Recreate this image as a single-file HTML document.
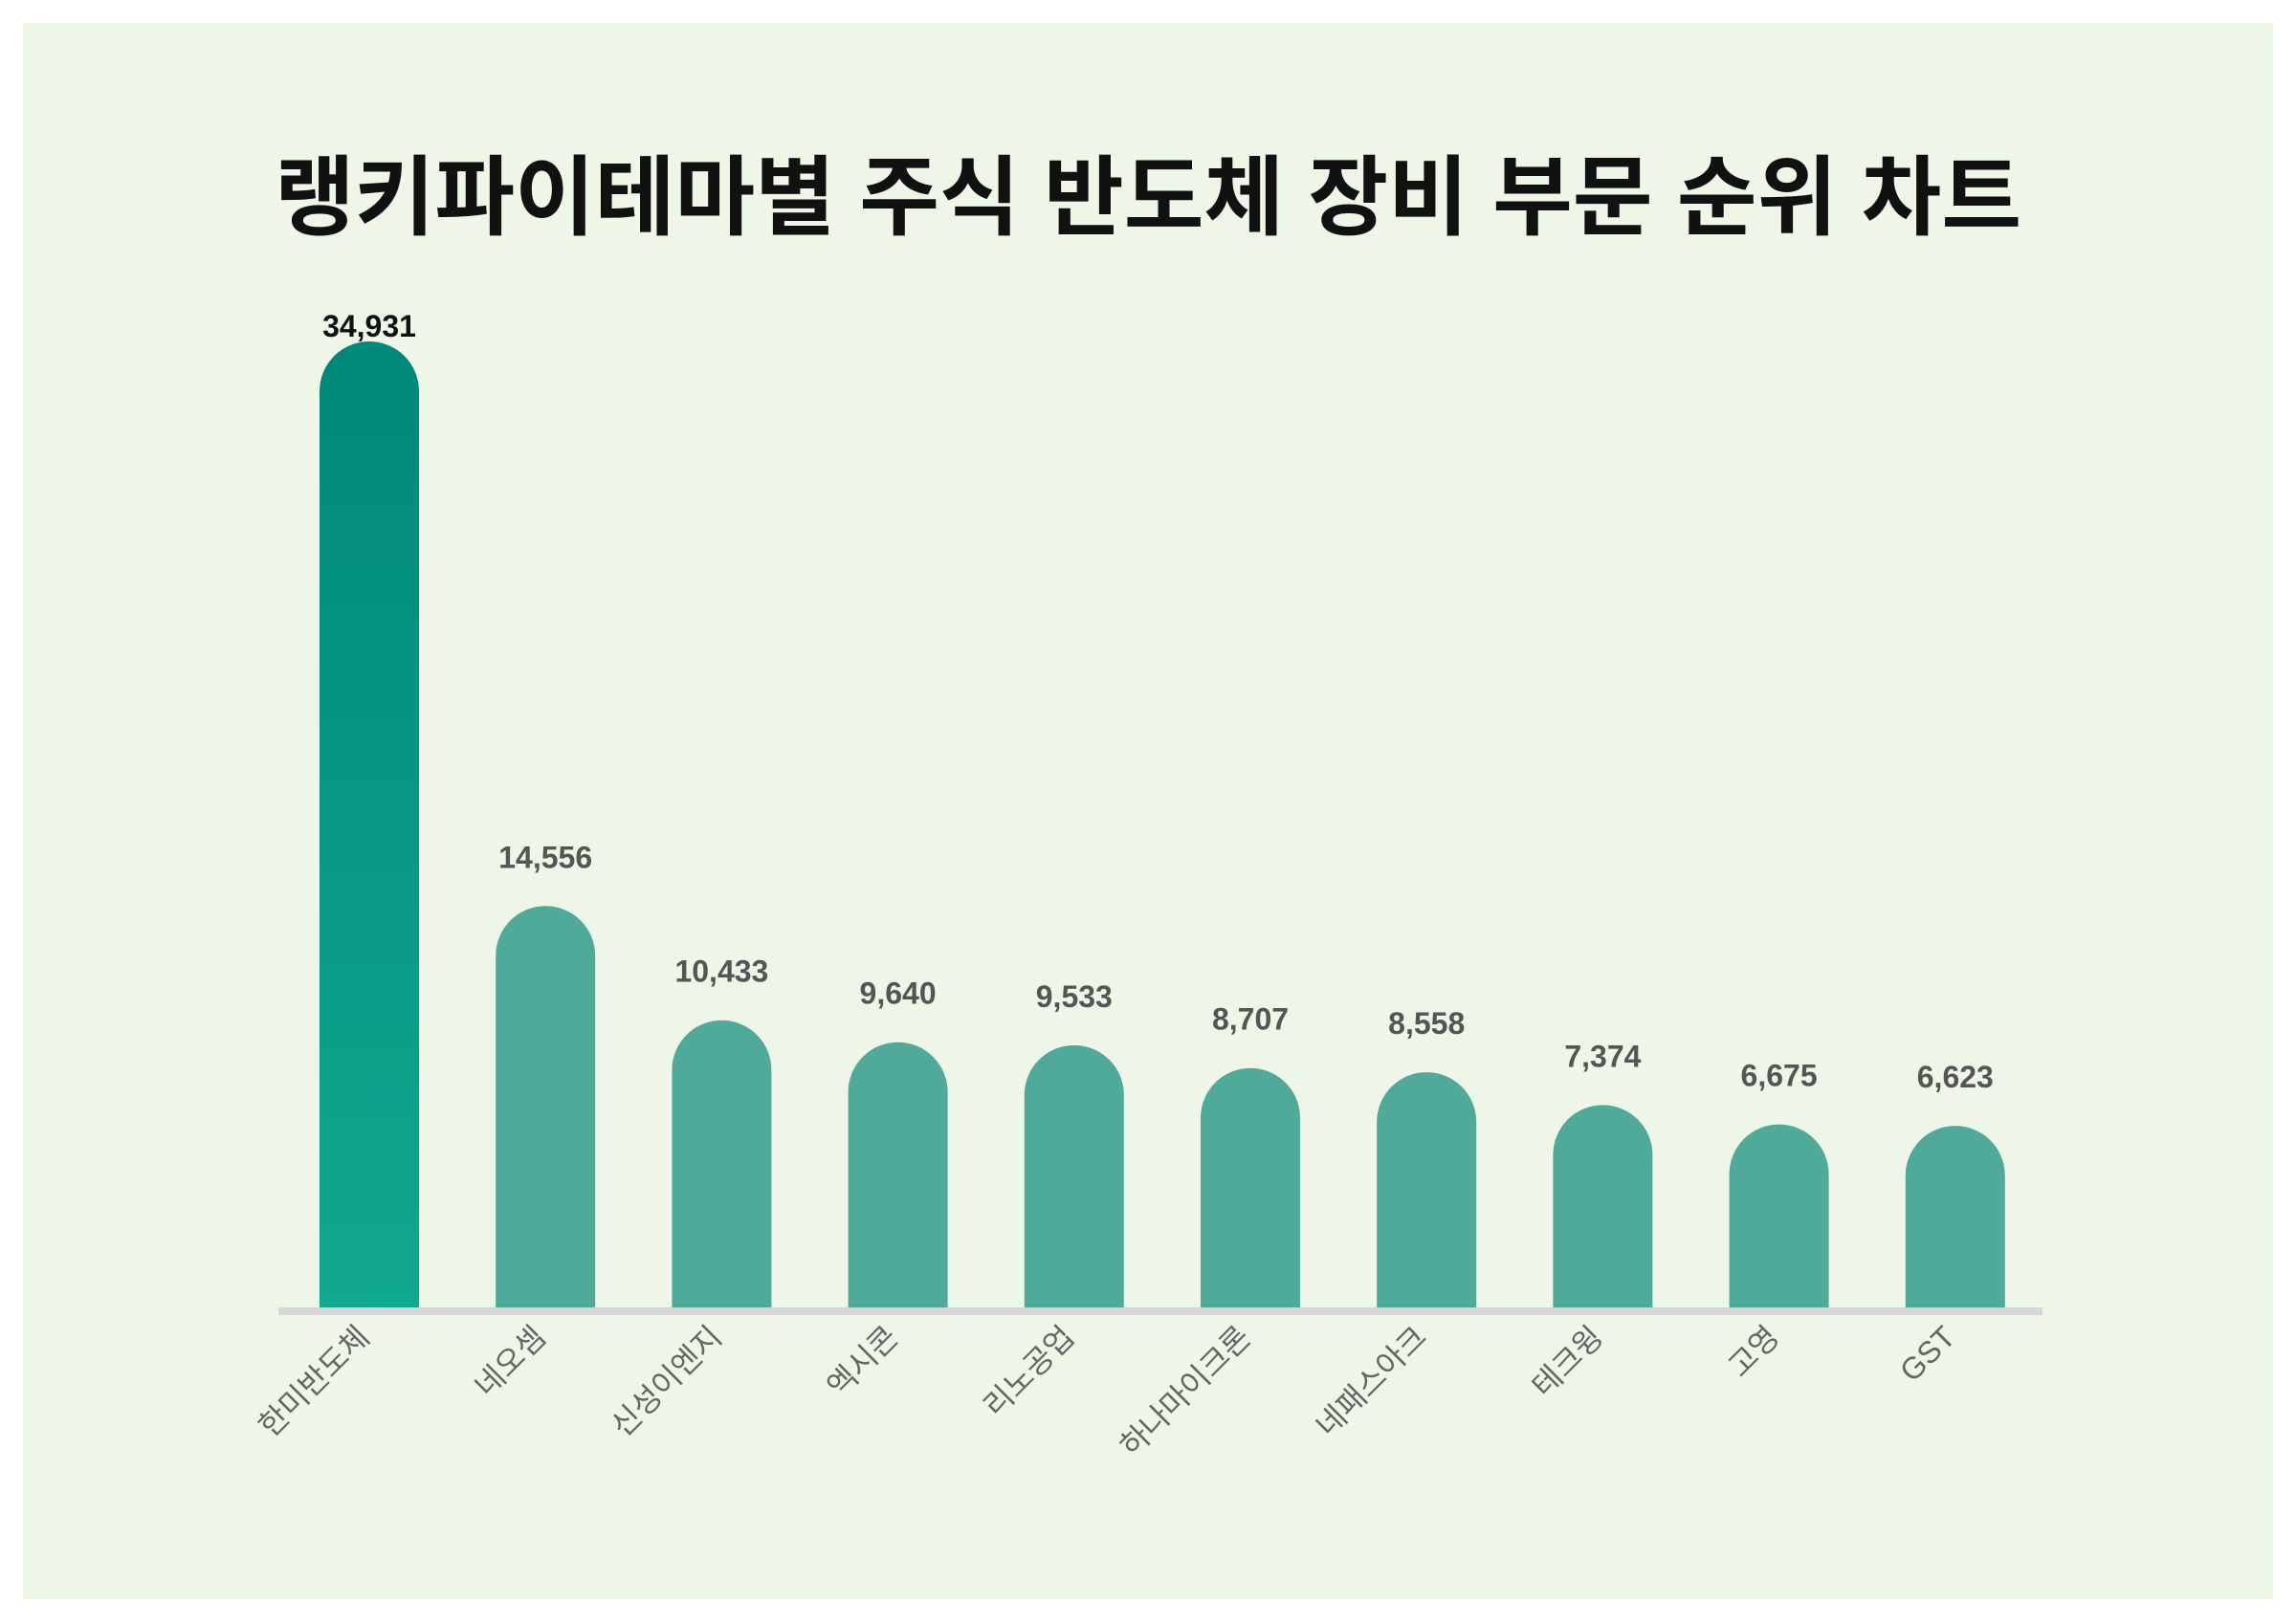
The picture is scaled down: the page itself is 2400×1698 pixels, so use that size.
<!DOCTYPE html>
<html><head><meta charset="utf-8">
<style>
html,body{margin:0;padding:0;background:#fff;}
body{width:2400px;height:1698px;position:relative;overflow:hidden;}
svg{position:absolute;left:0;top:0;font-family:"Liberation Sans","Noto Sans CJK KR",sans-serif;}
</style></head>
<body>
<svg id="chart" width="2400" height="1698" viewBox="0 0 2400 1698">
<defs>
<linearGradient id="g1" x1="0" y1="0" x2="0" y2="1">
<stop offset="0" stop-color="#00887a"/><stop offset="1" stop-color="#10a88e"/>
</linearGradient>
</defs>
<rect x="24" y="24" width="2352" height="1648" fill="#eef6e8"/>
<text x="1200" y="238" text-anchor="middle" font-size="91" font-weight="bold" fill="#111">랭키파이테마별 주식 반도체 장비 부문 순위 차트</text>
<g id="bars"></g>
<rect x="291" y="1367" width="1844" height="8" fill="#d6d6d6"/>
</svg>
<script>
const categories=["한미반도체","네오셈","신성이엔지","엑시콘","리노공업","하나마이크론","네패스아크","테크윙","고영","GST"];
const values=[34931,14556,10433,9640,9533,8707,8558,7374,6675,6623];
const labels=["34,931","14,556","10,433","9,640","9,533","8,707","8,558","7,374","6,675","6,623"];
const NS="http://www.w3.org/2000/svg";
const g=document.getElementById('bars');
const base=1369, pxPer=1012/34931;
const x=i=>386+i*184.2;
const y=v=>base-v*pxPer;
const w=104;
categories.forEach((c,i)=>{
  const cx=x(i), top=y(values[i]), r=w/2;
  const p=document.createElementNS(NS,'path');
  p.setAttribute('d',`M${cx-r},${base} L${cx-r},${top+r} A${r},${r} 0 0 1 ${cx+r},${top+r} L${cx+r},${base} Z`);
  p.setAttribute('fill',i===0?'url(#g1)':'#50aa9a');
  
  
  g.appendChild(p);
  const t=document.createElementNS(NS,'text');
  const ly=Math.max(top-40,352);
  t.setAttribute('x',cx);t.setAttribute('y',ly);
  t.setAttribute('text-anchor','middle');t.setAttribute('font-size','32');t.setAttribute('font-weight','bold');
  t.setAttribute('fill',i===0?'#111':'#555');
  t.textContent=labels[i];
  
  
  g.appendChild(t);
  const l=document.createElementNS(NS,'text');
  const lx=cx+2, lyy=1400;
  l.setAttribute('x',lx);l.setAttribute('y',lyy);
  l.setAttribute('text-anchor','end');l.setAttribute('font-size','32');l.setAttribute('fill','#666');
  l.setAttribute('transform',`rotate(-45 ${lx} ${lyy})`);
  l.textContent=c;
  
  
  g.appendChild(l);
});
</script>
</body></html>
